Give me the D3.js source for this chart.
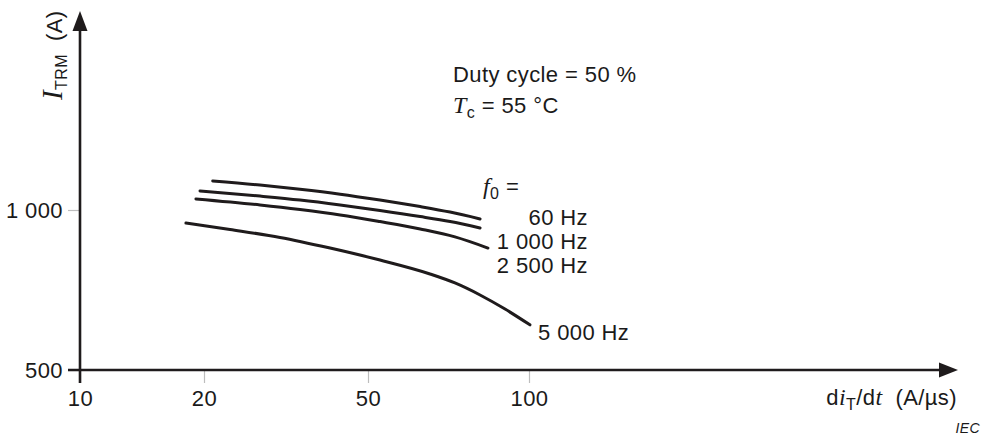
<!DOCTYPE html>
<html>
<head>
<meta charset="utf-8">
<script src="https://cdn.jsdelivr.net/npm/d3@7"></script>
<style>
  body { margin: 0; background: #fff; }
  svg text { font-family: "Liberation Sans", Arial, sans-serif; fill: #1a1a1a; letter-spacing: 0.4px; }
  .it { font-family: "Liberation Serif", "Times New Roman", serif; font-style: italic; }
</style>
</head>
<body>
<div class="board"></div>
<script>
/*
=================================
DATA
=================================
*/
var xTicks = [10, 20, 50, 100];
var yTicks = [500, 1000];

// f0 = 60 Hz
var di60 = [21.0, 27.35, 34.2, 42.8, 52.65, 62.6, 71.2, 81.0];
var it60 = [1134, 1114, 1094, 1071, 1044, 1015, 991, 962];

// f0 = 1 000 Hz
var di1000 = [19.56, 27.35, 34.2, 42.8, 52.65, 62.6, 71.2, 81.0];
var it1000 = [1086, 1062, 1044, 1022, 998, 972, 951, 925];

// f0 = 2 500 Hz
var di2500 = [19.12, 27.35, 34.2, 42.8, 52.65, 62.6, 72.7, 83.8];
var it2500 = [1049, 1022, 1002, 979, 951, 921, 890, 848];

// f0 = 5 000 Hz
var di5000 = [18.08, 23.13, 30.58, 40.45, 52.65, 65.3, 72.7, 81.0, 90.2, 100.4];
var it5000 = [945, 919, 888, 848, 805, 758, 729, 692, 651, 608];

var freqLabels = ['60 Hz', '1 000 Hz', '2 500 Hz'];

/*
=================================
CONTAINER + SCALES
=================================
*/
var svg = d3.select('.board').append('svg')
            .attr('width', 989)
            .attr('height', 437);

var ink = '#1f1b1c';

// the drawing's decades are not quite even, so the log scale is piecewise
var x = d3.scaleLog().domain(xTicks).range([80, 204, 368, 529]);
var y = d3.scaleLog().domain(yTicks).range([370, 210]);

var fmt = d3.formatLocale({ decimal: '.', thousands: ' ', grouping: [3], currency: ['', ''] }).format(',d');

/*
=================================
AXES
=================================
*/
var xAxis = svg.append('g')
  .attr('transform', 'translate(0,370)')
  .call(d3.axisBottom(x).tickValues(xTicks).tickFormat(fmt).tickSize(13).tickPadding(8));

var yAxis = svg.append('g')
  .attr('transform', 'translate(80,0)')
  .call(d3.axisLeft(y).tickValues(yTicks).tickFormat(fmt).tickSize(12).tickPadding(5));

[xAxis, yAxis].forEach(function(a) {
  a.select('.domain').remove();
  a.selectAll('line').attr('stroke', '#bdbdbd').attr('stroke-width', 1.2);
  a.selectAll('text').style('font-size', '22px').attr('fill', ink);
});
xAxis.selectAll('text').attr('dy', '0.7em');

// main axis lines, a little past the origin, with arrow heads
svg.append('line').attr('x1', 68).attr('y1', 370).attr('x2', 945).attr('y2', 370)
   .attr('stroke', ink).attr('stroke-width', 2.6);
svg.append('line').attr('x1', 80).attr('y1', 383).attr('x2', 80).attr('y2', 25)
   .attr('stroke', ink).attr('stroke-width', 2.6);
svg.append('path').attr('d', 'M958,370 L939,362.5 L939,377.5 Z').attr('fill', ink);
svg.append('path').attr('d', 'M80,11 L72.5,31 L87.5,31 Z').attr('fill', ink);

/*
=================================
CURVES
=================================
*/
var line = d3.line()
  .x(function(d) { return x(d[0]); })
  .y(function(d) { return y(d[1]); })
  .curve(d3.curveMonotoneX);

[[di60, it60], [di1000, it1000], [di2500, it2500], [di5000, it5000]].forEach(function(s) {
  svg.append('path')
     .datum(d3.zip(s[0], s[1]))
     .attr('d', line)
     .attr('fill', 'none')
     .attr('stroke', ink)
     .attr('stroke-width', 3)
     .attr('stroke-linecap', 'round');
});

/*
=================================
TEXTS
=================================
*/
var yTitle = svg.append('text')
  .attr('transform', 'translate(62,100) rotate(-90)')
  .style('font-size', '22px');
yTitle.append('tspan').attr('class', 'it').style('font-size', '29px').text('I');
yTitle.append('tspan').attr('dy', 5).style('font-size', '16px').text('TRM');
yTitle.append('tspan').attr('dy', -5).text('\u00a0\u00a0(A)');

var xTitle = svg.append('text').attr('x', 957).attr('y', 405)
  .attr('text-anchor', 'end').style('font-size', '22px');
xTitle.append('tspan').text('d');
xTitle.append('tspan').attr('class', 'it').style('font-size', '24px').text('i');
xTitle.append('tspan').attr('dy', 5).style('font-size', '16px').text('T');
xTitle.append('tspan').attr('dy', -5).text('/d');
xTitle.append('tspan').attr('class', 'it').style('font-size', '24px').text('t');
xTitle.append('tspan').text('\u00a0\u00a0(A/\u00b5s)');

svg.append('text').attr('x', 453).attr('y', 82).style('font-size', '22px').text('Duty cycle = 50 %');

var tc = svg.append('text').attr('x', 453).attr('y', 113).style('font-size', '22px');
tc.append('tspan').attr('class', 'it').style('font-size', '24px').text('T');
tc.append('tspan').attr('dy', 5).style('font-size', '16px').text('c');
tc.append('tspan').attr('dy', -5).text(' = 55 \u00b0C');

var f0 = svg.append('text').attr('x', 483).attr('y', 194).style('font-size', '22px');
f0.append('tspan').attr('class', 'it').style('font-size', '24px').text('f');
f0.append('tspan').attr('dy', 5).style('font-size', '16px').text('0');
f0.append('tspan').attr('dy', -5).text(' =');

svg.selectAll('.flab').data(freqLabels).enter().append('text')
   .attr('class', 'flab')
   .attr('x', 588)
   .attr('y', function(d, i) { return 225 + i * 24; })
   .attr('text-anchor', 'end')
   .style('font-size', '22px')
   .text(function(d) { return d; });

svg.append('text').attr('x', 538).attr('y', 340).style('font-size', '22px').text('5 000 Hz');

svg.append('text').attr('x', 980).attr('y', 433).attr('text-anchor', 'end')
   .style('font-size', '14px').style('font-style', 'italic').text('IEC');
</script>
</body>
</html>
